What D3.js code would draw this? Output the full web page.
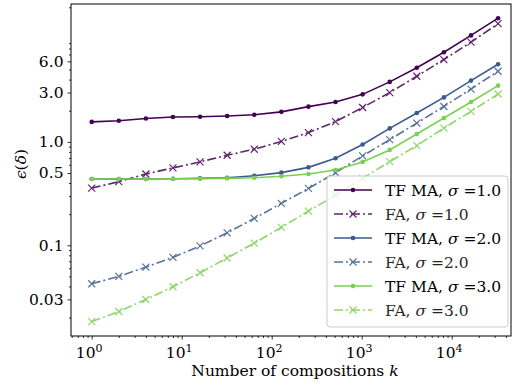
<!DOCTYPE html>
<html>
<head>
<meta charset="utf-8">
<script src="https://cdn.jsdelivr.net/npm/d3@7"></script>
<style>
body { margin: 0; background: #fff; }
text { font-family: "DejaVu Serif", serif; fill: #000; }
</style>
</head>
<body>
<svg id="chart" width="514" height="385"></svg>
<script>
// number of compositions k = 2^0 .. 2^15
let ks = [1, 2, 4, 8, 16, 32, 64, 128, 256, 512, 1024, 2048, 4096, 8192, 16384, 32768];

// epsilon(delta) per series
let tfma1 = [1.56, 1.60, 1.68, 1.74, 1.75, 1.78, 1.83, 1.95, 2.19, 2.43, 2.88, 3.80, 5.20, 7.36, 10.7, 15.7];
let fa1   = [0.357, 0.412, 0.489, 0.560, 0.640, 0.743, 0.849, 1.01, 1.23, 1.57, 2.15, 2.99, 4.31, 6.25, 9.2, 13.9];
let tfma2 = [0.437, 0.437, 0.437, 0.440, 0.444, 0.450, 0.471, 0.504, 0.567, 0.695, 0.942, 1.35, 1.90, 2.69, 3.91, 5.63];
let fa2   = [0.0425, 0.050, 0.0615, 0.0764, 0.0986, 0.132, 0.182, 0.254, 0.355, 0.503, 0.731, 1.05, 1.52, 2.20, 3.24, 4.82];
let tfma3 = [0.437, 0.437, 0.437, 0.440, 0.440, 0.444, 0.450, 0.465, 0.489, 0.535, 0.640, 0.836, 1.19, 1.70, 2.43, 3.50];
let fa3   = [0.0183, 0.0229, 0.0299, 0.0397, 0.0543, 0.0753, 0.105, 0.149, 0.214, 0.305, 0.444, 0.644, 0.921, 1.36, 1.97, 2.90];

let seriesNames = ["TF MA", "FA", "TF MA", "FA", "TF MA", "FA"];
let sigmas = ["1.0", "1.0", "2.0", "2.0", "3.0", "3.0"];
let yTickValues = [0.03, 0.1, 0.5, 1.0, 3.0, 6.0];
let yTickLabels = ["0.03", "0.1", "0.5", "1.0", "3.0", "6.0"];
let xTickValues = [1, 10, 100, 1000, 10000];

let colors = ["#440154", "#440154", "#3b5b8c", "#3b5b8c", "#7ad151", "#7ad151"];
let allSeries = [tfma1, fa1, tfma2, fa2, tfma3, fa3];

let svg = d3.select("#chart");
let plotLeft = 71, plotRight = 511, plotTop = 4, plotBottom = 336;
let fs = 15.5;

let x = d3.scaleLog()
	.domain([Math.pow(10, -0.23), Math.pow(10, 4.659)])
	.range([plotLeft, plotRight]);
let y = d3.scaleLog()
	.domain([Math.pow(10, -1.877), Math.pow(10, 1.333)])
	.range([plotBottom, plotTop]);

// lines
let line = d3.line()
	.x((d, i) => x(ks[i]))
	.y(d => y(d));

let plot = svg.append("g");
allSeries.forEach((vals, s) => {
	let isFA = s % 2 == 1;
	let g = plot.append("g").attr("opacity", isFA ? 0.85 : 1);
	g.append("path")
		.attr("d", line(vals))
		.attr("fill", "none")
		.attr("stroke", colors[s])
		.attr("stroke-width", 1.6)
		.attr("stroke-dasharray", isFA ? "9,3,2,3" : null);
	if (isFA) {
		g.selectAll("path.mk")
			.data(vals)
			.enter()
			.append("path")
			.attr("class", "mk")
			.attr("d", "M-3.5,-3.5L3.5,3.5M-3.5,3.5L3.5,-3.5")
			.attr("transform", (d, i) => "translate(" + x(ks[i]) + "," + y(d) + ")")
			.attr("stroke", colors[s])
			.attr("stroke-width", 1.2);
	} else {
		g.selectAll("circle")
			.data(vals)
			.enter()
			.append("circle")
			.attr("cx", (d, i) => x(ks[i]))
			.attr("cy", d => y(d))
			.attr("r", 2.3)
			.attr("fill", colors[s]);
	}
});

// axes
let xMinor = [];
for (let e = -1; e <= 4; e++) {
	for (let m = 2; m <= 9; m++) {
		let v = m * Math.pow(10, e);
		if (v >= x.domain()[0] && v <= x.domain()[1]) xMinor.push(v);
	}
}
let yMinor = [];
for (let e = -2; e <= 1; e++) {
	for (let m = 2; m <= 9; m++) {
		let v = m * Math.pow(10, e);
		if (v >= y.domain()[0] && v <= y.domain()[1] && !yTickValues.some(t => Math.abs(t - v) < 1e-9)) yMinor.push(v);
	}
}

svg.append("g")
	.attr("transform", "translate(0," + plotBottom + ")")
	.call(d3.axisBottom(x).tickValues(xMinor).tickSize(2).tickFormat(""));
let xAxis = svg.append("g")
	.attr("transform", "translate(0," + plotBottom + ")")
	.call(d3.axisBottom(x).tickValues(xTickValues).tickSize(3.5).tickFormat(""));
xAxis.selectAll(".tick").append("text")
	.attr("x", -3)
	.attr("y", 22)
	.attr("text-anchor", "middle")
	.attr("font-size", fs)
	.each(function(d) {
		let t = d3.select(this);
		t.append("tspan").text("10");
		t.append("tspan").attr("dy", -6.5).attr("font-size", 11).text(Math.round(Math.log10(d)));
	});

svg.append("g")
	.attr("transform", "translate(" + plotLeft + ",0)")
	.call(d3.axisLeft(y).tickValues(yMinor).tickSize(2).tickFormat(""));
let yAxis = svg.append("g")
	.attr("transform", "translate(" + plotLeft + ",0)")
	.call(d3.axisLeft(y).tickValues(yTickValues).tickSize(3.5).tickPadding(4)
		.tickFormat((d, i) => yTickLabels[i]));
yAxis.selectAll("text").attr("font-size", fs).attr("font-family", "DejaVu Serif");

svg.selectAll(".domain").remove();
svg.selectAll(".tick line").attr("stroke", "#000").attr("stroke-width", 0.8);

// frame
svg.append("rect")
	.attr("x", plotLeft).attr("y", plotTop)
	.attr("width", plotRight - plotLeft).attr("height", plotBottom - plotTop)
	.attr("fill", "none").attr("stroke", "#000").attr("stroke-width", 1);

// axis titles
svg.append("text")
	.attr("x", 295)
	.attr("y", 376)
	.attr("text-anchor", "middle")
	.attr("font-size", fs)
	.html("Number of compositions <tspan font-style='italic'>k</tspan>");
svg.append("text")
	.attr("transform", "translate(26,164) rotate(-90)")
	.attr("text-anchor", "middle")
	.attr("font-size", fs)
	.html("<tspan font-style='italic'>ϵ</tspan>(<tspan font-style='italic'>δ</tspan>)");

// legend
let lg = svg.append("g").attr("transform", "translate(327,176)");
lg.append("rect")
	.attr("width", 181).attr("height", 151).attr("rx", 3)
	.attr("fill", "#fff").attr("fill-opacity", 0.8)
	.attr("stroke", "#cccccc").attr("stroke-width", 1);
seriesNames.forEach((name, s) => {
	let isFA = s % 2 == 1;
	let row = lg.append("g")
		.attr("transform", "translate(0," + (14 + s * 24) + ")")
		.attr("opacity", isFA ? 0.85 : 1);
	row.append("line")
		.attr("x1", 7).attr("x2", 45)
		.attr("stroke", colors[s]).attr("stroke-width", 1.6)
		.attr("stroke-dasharray", isFA ? "9,3,2,3" : null);
	if (isFA) {
		row.append("path")
			.attr("d", "M-3.5,-3.5L3.5,3.5M-3.5,3.5L3.5,-3.5")
			.attr("transform", "translate(26,0)")
			.attr("stroke", colors[s]).attr("stroke-width", 1.2);
	} else {
		row.append("circle").attr("cx", 26).attr("r", 2.3).attr("fill", colors[s]);
	}
	row.append("text")
		.attr("x", 58).attr("y", 5.5)
		.attr("font-size", fs)
		.html(name + ", <tspan font-style='italic'>σ</tspan> =" + sigmas[s]);
});
</script>
</body>
</html>
